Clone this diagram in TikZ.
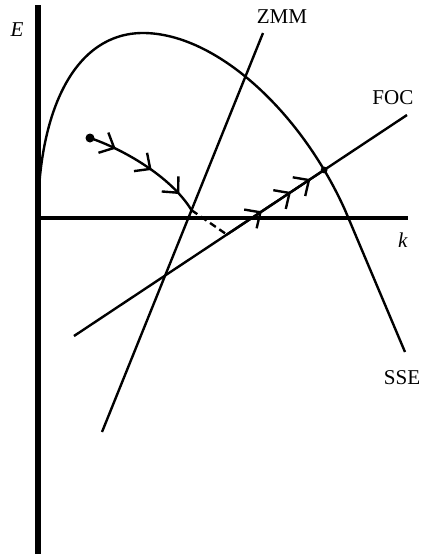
\documentclass[tikz,border=0pt]{standalone}
\usepackage{fontspec}
\setmainfont{Liberation Serif}
\usetikzlibrary{arrows.meta,decorations.markings,intersections,calc}

\newcommand{\chevtip}{\arrow{Straight Barb[length=8.5pt,width=16pt]}}

\begin{document}
\begin{tikzpicture}[x=0.025cm, y=-0.025cm,
  curveline/.style={line width=1.7pt},
  pathmarks/.style={postaction={decorate}, decoration={markings,
      mark=at position 0.22 with {\chevtip},
      mark=at position 0.55 with {\chevtip},
      mark=at position 0.84 with {\chevtip}}},
  focmarks/.style={postaction={decorate}, decoration={markings,
      mark=at position 0.36 with {\chevtip},
      mark=at position 0.66 with {\chevtip},
      mark=at position 0.86 with {\chevtip}}},
  lab/.style={font=\fontsize{15}{17}\selectfont, inner sep=0pt}]
\useasboundingbox (0,0) rectangle (422,554);

% axes
\coordinate (O) at (38,218);
\draw[line width=4pt] (38,554) -- (38,5);
\draw[line width=3pt] (O) -- (408,218);

% ZMM and FOC lines
\coordinate (zmmA) at (102,432);
\coordinate (zmmB) at (263,33);
\coordinate (focA) at (74,336);
\coordinate (focB) at (407,115);
\draw[curveline, name path=zmm] (zmmA) -- (zmmB);
\draw[curveline, name path=foc] (focA) -- (focB);

% SSE curve
\draw[curveline, name path=sse] (O) .. controls (38,110) and (75,33) .. (143,33)
  .. controls (215,33) and (300,110) .. (345,210) -- (405,352);
\path[name intersections={of=sse and foc, by=eq}];

% adjustment path
\coordinate (start) at (90,138);
\coordinate (turn) at ($(zmmA)!0.556!(zmmB)$);
\coordinate (land) at ($(focA)!0.459!(focB)$);
\draw[curveline, pathmarks] (start) .. controls (120,148) and (170,175) .. (turn);
\draw[curveline, dash pattern=on 5pt off 3pt] (turn) -- (land);
\draw[curveline, focmarks] (land) -- (eq);
\fill (start) circle (4.5);
\fill (eq) circle (3.4);

% labels
\node[lab] (Elab) at (17,30) {\textit{E}};
\node[lab] (klab) at (403,240) {\textit{k}};
\node[lab] (zmmlab) at (282,17) {ZMM};
\node[lab] (foclab) at (393,98) {FOC};
\node[lab] (sselab) at (402,378) {SSE};
\end{tikzpicture}
\end{document}
